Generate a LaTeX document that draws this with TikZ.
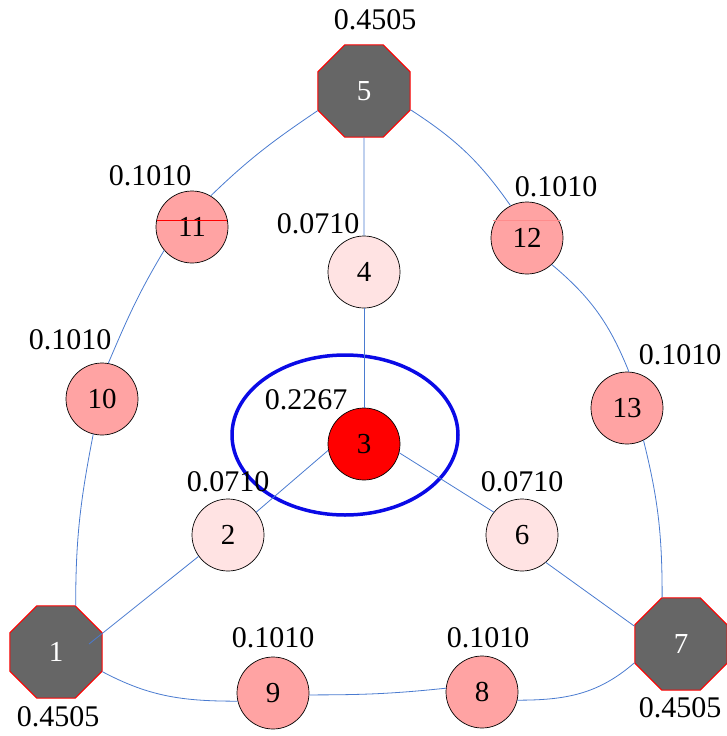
\documentclass[tikz,border=0pt]{standalone}
\usepackage{fontspec}
\setmainfont{Liberation Serif}
\usetikzlibrary{shapes.geometric}
\definecolor{edgeblue}{HTML}{4A7BD0}
\definecolor{octgray}{HTML}{666666}
\definecolor{midpink}{HTML}{FFA3A3}
\definecolor{lightpink}{HTML}{FFE3E3}
\definecolor{ellblue}{HTML}{0A0AE6}
\tikzset{
  octnode/.style={regular polygon, regular polygon sides=8, minimum size=100pt, fill=octgray, draw=red, line width=1pt, text=white, inner sep=0pt, font=\fontsize{29}{34}\selectfont},
  cnode/.style={circle, minimum size=72pt, draw=black, line width=0.7pt, inner sep=0pt, font=\fontsize{29}{34}\selectfont},
  midnode/.style={cnode, fill=midpink},
  lightnode/.style={cnode, fill=lightpink},
  rednode/.style={cnode, fill=red},
  val/.style={inner sep=0pt, font=\fontsize{30}{36}\selectfont},
  edge/.style={draw=edgeblue, line width=0.8pt}
}
\begin{document}
\begin{tikzpicture}[x=1pt, y=-1pt]
\useasboundingbox (0,0) rectangle (727,736);
% ellipse
\draw[ellblue, line width=3.5pt] (345,435) ellipse [x radius=113, y radius=80];
% nodes
\node[octnode] (n5) at (364,91) {5};
\node[octnode] (n1) at (56,652) {1};
\node[octnode] (n7) at (681,644) {7};
\node[midnode] (n11) at (192,227) {11};
\node[midnode] (n12) at (527,238) {12};
\node[midnode] (n10) at (102,399) {10};
\node[midnode] (n13) at (627,408) {13};
\node[midnode] (n9) at (273,693) {9};
\node[midnode] (n8) at (482,692) {8};
\node[lightnode] (n4) at (364,272) {4};
\node[lightnode] (n2) at (228,535) {2};
\node[lightnode] (n6) at (522,535) {6};
\node[rednode] (n3) at (364,444) {3};
\coordinate (p1) at (89,644);
% artifact lines across 11 and 12
\draw[red, line width=0.6pt] (157,220) -- (227,220);
\draw[red!45, line width=0.6pt] (493,220) -- (561,220);
% edges
\draw[edge] (n5.203) to[out=214, in=44] (n11.59);
\draw[edge] (n11.220) to[out=239, in=67] (n10.80);
\draw[edge] (n10.256) to[out=259, in=90] (n1.67);
\draw[edge] (n5) -- (n4);
\draw[edge] (n4) -- (n3);
\draw[edge] (n5.-22) to[out=-33, in=125] (n12.117);
\draw[edge] (n12.-47) to[out=-40, in=112] (n13.87);
\draw[edge] (n13.-63) to[out=-76, in=90] (n7.112);
\draw[edge] (n3.190) -- (n2.39);
\draw[edge] (n2.216) -- (p1);
\draw[edge] (n3.-14) -- (n6.141);
\draw[edge] (n6.-49) -- (n7.159);
\draw[edge] (n1.-23) to[out=-28, in=180] (n9.193);
\draw[edge] (n9.-3) to[out=0, in=186] (n8.174);
\draw[edge] (n8.-13) to[out=0, in=221] (n7.202);
% values
\node[val] (v5) at (375,20) {0.4505};
\node[val] (v11) at (150,176) {0.1010};
\node[val] (v4) at (318,224) {0.0710};
\node[val] (v12) at (556,187) {0.1010};
\node[val] (v10) at (70,340) {0.1010};
\node[val] (v13) at (680,355) {0.1010};
\node[val] (v3) at (306,400) {0.2267};
\node[val] (v2) at (228,482) {0.0710};
\node[val] (v6) at (522,482) {0.0710};
\node[val] (v9) at (273,638) {0.1010};
\node[val] (v8) at (488,638) {0.1010};
\node[val] (v1) at (58,717) {0.4505};
\node[val] (v7) at (680,708) {0.4505};
\end{tikzpicture}
\end{document}
